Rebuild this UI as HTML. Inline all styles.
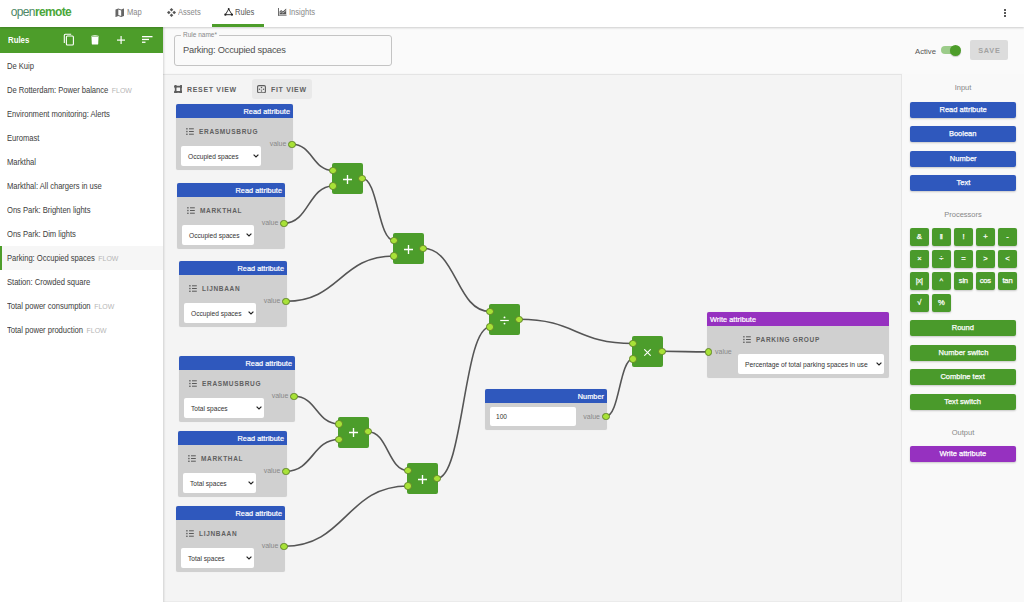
<!DOCTYPE html>
<html><head><meta charset="utf-8">
<style>
*{box-sizing:border-box;margin:0;padding:0}
html,body{width:1024px;height:602px;overflow:hidden;background:#fff;font-family:"Liberation Sans",sans-serif;position:relative}
.a{position:absolute}
#topbar{left:0;top:0;width:1024px;height:27px;background:#fff;box-shadow:0 1px 2px rgba(0,0,0,.18);z-index:5}
.nav{top:6.5px;font-size:8.6px;transform:scaleX(.88);transform-origin:0 0;color:#888;white-space:nowrap;line-height:10px}
.nav.act{color:#555}
#left{left:0;top:27px;width:163px;height:575px;background:#fff;z-index:3;box-shadow:1px 0 2px rgba(0,0,0,.15)}
#lhead{left:0;top:0;width:163px;height:26px;background:#4d9d2a}
.li{left:7px;font-size:8.6px;letter-spacing:-0.05px;color:#3d3d3d;white-space:nowrap;line-height:10px;transform:scaleX(.89);transform-origin:0 0}
.flow{color:#b5b5b5;font-size:7.8px;letter-spacing:0;margin-left:4px}
#main{left:163px;top:27px;width:861px;height:575px;background:#fafafa}
#canvas{left:163px;top:74px;width:739px;height:528px;background:#f4f4f4;border-top:1px solid #e4e4e4;border-right:1px solid #e6e6e6;border-bottom:1px solid #ebebeb;box-shadow:1px 0 2px rgba(0,0,0,.04)}
#pal{left:902px;top:74px;width:122px;height:528px;background:#f9f9f9}
.pb{left:910px;width:106px;height:16px;border-radius:2px;color:#fff;font-size:7.5px;font-weight:bold;text-align:center;line-height:16.5px;box-shadow:0 1px 2px rgba(0,0,0,.2)}
.blue{background:#2f58bd}
.grn{background:#4a9a2b}
.pur{background:#9631c0}
.pt{display:inline-block;font-size:8px;transform:scaleX(.94);white-space:nowrap;font-weight:normal;-webkit-text-stroke:0.25px #fff}
.sb{width:18.5px;height:18px;line-height:18.5px;font-size:7.6px;font-weight:normal;-webkit-text-stroke:0.25px #fff;letter-spacing:-0.2px}
.tb{font-size:8px;font-weight:bold;letter-spacing:0.8px;color:#606060;line-height:10px;white-space:nowrap;transform:scaleX(.87);transform-origin:0 0}
.plab{left:902px;width:122px;text-align:center;font-size:7.5px;color:#888;line-height:10px}
.node{background:#d0d0d0;border-radius:2px;box-shadow:0 0 1px rgba(0,0,0,.1)}
.nh{position:absolute;left:0;top:0;right:0;height:14px;border-radius:2px 2px 0 0;color:#fff;font-size:7.3px;font-weight:normal;-webkit-text-stroke:0.22px #fff;letter-spacing:0.05px;line-height:16px;padding:0 3px;text-align:right}
.nm{position:absolute;font-size:6.5px;font-weight:bold;letter-spacing:0.68px;color:#606060;line-height:8px;white-space:nowrap}
.selb{position:absolute;background:#fff;border-radius:2px;font-size:6.6px;color:#333;line-height:21px;padding-left:7px;white-space:nowrap}
svg{display:block}
.chev{position:absolute;right:2px;top:8px}
.sym{font-size:13px;line-height:31px}
.val{position:absolute;font-size:7px;color:#888;line-height:8px}
.proc{background:#4c9d2b;border-radius:2px;color:#fff;text-align:center}
.sock{position:absolute;width:7.4px;height:7.4px;border-radius:50%;background:#a8e237;border:1px solid #62862a;z-index:4}
</style></head><body>

<!-- main areas -->
<div id="main" class="a"></div>
<div id="canvas" class="a"></div>
<div id="pal" class="a"></div>

<!-- top bar -->
<div id="topbar" class="a">
  <div class="a" style="left:10.8px;top:5px;font-size:12px;letter-spacing:-0.65px;line-height:14px;white-space:nowrap"><span style="color:#4d8868">open</span><span style="color:#4aa63a;font-weight:bold">remote</span></div>
  
  <svg class="a" style="left:114.5px;top:7.5px" width="9.5" height="9.5" viewBox="2 2 20 20"><path fill="#666" d="M20.5 3l-.16.03L15 5.1 9 3 3.36 4.9c-.21.07-.36.25-.36.48V20.5c0 .28.22.5.5.5l.16-.03L9 18.9l6 2.1 5.64-1.9c.21-.07.36-.25.36-.48V3.5c0-.28-.22-.5-.5-.5zM15 19l-6-2.11V5l6 2.11V19z"/></svg>
  <svg class="a" style="left:167px;top:7.5px" width="9" height="9" viewBox="0 0 9 9"><g fill="#555"><path d="M4.5 0 L6.3 1.8 L4.5 3.6 L2.7 1.8 Z"/><path d="M4.5 5.4 L6.3 7.2 L4.5 9 L2.7 7.2 Z"/><path d="M0 4.5 L1.8 2.7 L3.6 4.5 L1.8 6.3 Z"/><path d="M5.4 4.5 L7.2 2.7 L9 4.5 L7.2 6.3 Z"/></g></svg>
  <svg class="a" style="left:223.5px;top:8.2px" width="9.4" height="7.8" viewBox="0 0 10 8.4"><g fill="none" stroke="#222" stroke-width="1"><path d="M5 1.2 L1.4 7.2 H8.6 Z"/></g><g fill="#222"><circle cx="5" cy="1.1" r="1"/><circle cx="1.4" cy="7.2" r="1.2"/><circle cx="8.6" cy="7.2" r="1.2"/></g></svg>
  <svg class="a" style="left:278px;top:8.3px" width="8.6" height="7.6" viewBox="0 0 9 8"><g fill="#555"><rect x="0" y="0" width="0.9" height="8"/><rect x="0" y="7.1" width="9" height="0.9"/><path d="M1.6 6.6 V3.6 L3.3 2.2 L5.1 3.7 L8.6 0.6 V6.6 Z"/></g><path d="M1.6 5.3 L3.3 3.9 L5.1 5.4 L8.6 2.4" stroke="#fff" stroke-width="0.6" fill="none"/></svg>
<div class="a nav" style="left:127px">Map</div>
  <div class="a nav" style="left:178px">Assets</div>
  <div class="a nav act" style="left:235px">Rules</div>
  <div class="a nav" style="left:289px">Insights</div>
  <div class="a" style="left:212px;top:24px;width:52px;height:3px;background:#4d9d2a"></div>
  <div class="a" style="left:1004px;top:9px;width:2px;height:2px;background:#222;border-radius:1px"></div>
  <div class="a" style="left:1004px;top:12px;width:2px;height:2px;background:#222;border-radius:1px"></div>
  <div class="a" style="left:1004px;top:15px;width:2px;height:2px;background:#222;border-radius:1px"></div>
</div>

<!-- left panel -->
<div id="left" class="a">
  <div id="lhead" class="a">
    <div class="a" style="left:8px;top:8px;font-size:9px;font-weight:bold;color:#fff;line-height:10px;transform:scaleX(.87);transform-origin:0 0">Rules</div>
  <svg class="a" style="left:62px;top:5.5px" width="13" height="13" viewBox="0 0 13 13"><g fill="none" stroke="#fff" stroke-width="1.1"><path d="M2.3 10 V2.2 Q2.3 1.2 3.3 1.2 H9.2"/><rect x="4.4" y="3" width="7" height="9" rx="1"/></g></svg>
  <svg class="a" style="left:91px;top:7.5px" width="8" height="10" viewBox="0 0 8 10"><g fill="#fff"><path d="M0 0.9 Q4 -0.3 8 0.9 V1.6 H0 Z"/><path d="M0.5 2.1 H7.5 L7.2 9 Q7.1 9.6 6.4 9.6 H1.6 Q0.9 9.6 0.8 9 Z"/></g></svg>
  <svg class="a" style="left:117.2px;top:8.8px" width="8.2" height="8.2" viewBox="0 0 8.2 8.2"><g fill="#fff"><rect x="3.5" y="0" width="1.2" height="8.2"/><rect x="0" y="3.5" width="8.2" height="1.2"/></g></svg>
  <svg class="a" style="left:141.5px;top:9.4px" width="11" height="7" viewBox="0 0 11 7"><g fill="#fff"><rect x="0" y="0" width="10.5" height="1.3"/><rect x="0" y="2.8" width="7" height="1.3"/><rect x="0" y="5.6" width="3.5" height="1.3"/></g></svg>

  </div>
  <div class="a" style="left:0;top:218.5px;width:163px;height:24.5px;background:#f6f6f6"></div>
  <div class="a" style="left:0;top:218.5px;width:2px;height:24.5px;background:#4d9d2a"></div>
  <div class="a li" style="top:34px">De Kuip</div>
  <div class="a li" style="top:58px">De Rotterdam: Power balance<span class="flow">FLOW</span></div>
  <div class="a li" style="top:82px">Environment monitoring: Alerts</div>
  <div class="a li" style="top:106px">Euromast</div>
  <div class="a li" style="top:130px">Markthal</div>
  <div class="a li" style="top:154px">Markthal: All chargers in use</div>
  <div class="a li" style="top:178px">Ons Park: Brighten lights</div>
  <div class="a li" style="top:202px">Ons Park: Dim lights</div>
  <div class="a li" style="top:226px">Parking: Occupied spaces<span class="flow">FLOW</span></div>
  <div class="a li" style="top:250px">Station: Crowded square</div>
  <div class="a li" style="top:274px">Total power consumption<span class="flow">FLOW</span></div>
  <div class="a li" style="top:298px">Total power production<span class="flow">FLOW</span></div>
</div>


<!-- toolbar -->
<div class="a" style="left:252px;top:79px;width:60px;height:20px;background:#e9e9e9;border-radius:3px"></div>
<div class="a tb" style="left:187px;top:84.5px">RESET VIEW</div>
<div class="a tb" style="left:271px;top:84.5px">FIT VIEW</div>
<svg class="a" style="left:173.6px;top:84.9px" width="8.6" height="8.6" viewBox="0 0 9 9"><g fill="#5c5c5c"><path d="M1.5 0.3 Q4.5 1.5 7.5 0.3 L8.7 1.5 Q7.5 4.5 8.7 7.5 L7.5 8.7 Q4.5 7.5 1.5 8.7 L0.3 7.5 Q1.5 4.5 0.3 1.5 Z M2.6 2.6 V6.4 H6.4 V2.6 Z" fill-rule="evenodd"/><circle cx="1.5" cy="1.5" r="1.4"/><circle cx="7.5" cy="1.5" r="1.4"/><circle cx="1.5" cy="7.5" r="1.4"/><circle cx="7.5" cy="7.5" r="1.4"/></g></svg>
<svg class="a" style="left:257px;top:84.8px" width="9" height="8.4" viewBox="0 0 9 8.4"><rect x="0.6" y="0.6" width="7.8" height="7.2" rx="1.2" fill="none" stroke="#5c5c5c" stroke-width="1.1"/><g fill="#5c5c5c"><circle cx="4.5" cy="2.4" r="0.75"/><circle cx="4.5" cy="6" r="0.75"/><circle cx="2.5" cy="4.2" r="0.75"/><circle cx="6.5" cy="4.2" r="0.75"/></g><circle cx="4.5" cy="4.2" r="0.5" fill="#999"/></svg>

<!-- palette -->
<div class="a plab" style="top:83px">Input</div>
<div class="a pb blue" style="top:101.5px"><span class="pt">Read attribute</span></div>
<div class="a pb blue" style="top:126px"><span class="pt">Boolean</span></div>
<div class="a pb blue" style="top:150.5px"><span class="pt">Number</span></div>
<div class="a pb blue" style="top:175px"><span class="pt">Text</span></div>
<div class="a plab" style="top:209.5px">Processors</div>
<div class="a pb grn sb" style="left:910.0px;top:228.0px">&amp;</div>
<div class="a pb grn sb" style="left:932.0px;top:228.0px">‖</div>
<div class="a pb grn sb" style="left:954.1px;top:228.0px">!</div>
<div class="a pb grn sb" style="left:976.1px;top:228.0px">+</div>
<div class="a pb grn sb" style="left:998.2px;top:228.0px">-</div>
<div class="a pb grn sb" style="left:910.0px;top:250.0px">×</div>
<div class="a pb grn sb" style="left:932.0px;top:250.0px">÷</div>
<div class="a pb grn sb" style="left:954.1px;top:250.0px">=</div>
<div class="a pb grn sb" style="left:976.1px;top:250.0px">&gt;</div>
<div class="a pb grn sb" style="left:998.2px;top:250.0px">&lt;</div>
<div class="a pb grn sb" style="left:910.0px;top:272.0px">|x|</div>
<div class="a pb grn sb" style="left:932.0px;top:272.0px">^</div>
<div class="a pb grn sb" style="left:954.1px;top:272.0px">sin</div>
<div class="a pb grn sb" style="left:976.1px;top:272.0px">cos</div>
<div class="a pb grn sb" style="left:998.2px;top:272.0px">tan</div>
<div class="a pb grn sb" style="left:910.0px;top:294.0px">√</div>
<div class="a pb grn sb" style="left:932.0px;top:294.0px">%</div>
<div class="a pb grn" style="top:320.3px"><span class="pt">Round</span></div>
<div class="a pb grn" style="top:344.7px"><span class="pt">Number switch</span></div>
<div class="a pb grn" style="top:369.3px"><span class="pt">Combine text</span></div>
<div class="a pb grn" style="top:394px"><span class="pt">Text switch</span></div>
<div class="a plab" style="top:428px">Output</div>
<div class="a pb pur" style="top:446.3px"><span class="pt">Write attribute</span></div>
<svg class="a" style="left:0;top:0;z-index:1" width="1024" height="602"><g fill="none" stroke="#555" stroke-width="1.6"><path d="M292.1 144.3 C312.6 144.3 312.6 170.5 333.0 170.5"/><path d="M284.1 223.3 C308.6 223.3 308.6 186.0 333.0 186.0"/><path d="M362.0 178.3 C378.0 178.3 378.0 240.5 394.0 240.5"/><path d="M286.1 301.3 C340.1 301.3 340.1 256.0 394.0 256.0"/><path d="M423.0 248.3 C456.5 248.3 456.5 311.5 490.0 311.5"/><path d="M437.0 478.3 C463.5 478.3 463.5 327.0 490.0 327.0"/><path d="M519.0 319.3 C576.0 319.3 576.0 343.5 633.0 343.5"/><path d="M606.0 416.2 C619.5 416.2 619.5 359.0 633.0 359.0"/><path d="M662.0 351.3 C685.1 351.3 685.1 351.9 708.2 351.9"/><path d="M294.1 396.3 C316.6 396.3 316.6 424.0 339.0 424.0"/><path d="M286.1 471.3 C312.6 471.3 312.6 439.5 339.0 439.5"/><path d="M368.0 431.8 C388.0 431.8 388.0 470.5 408.0 470.5"/><path d="M284.1 546.3 C346.1 546.3 346.1 486.0 408.0 486.0"/></g></svg><div class="a" style="left:0;top:0;z-index:2"><div class="a node" style="left:176px;top:104px;width:117px;height:66px"><div class="nh blue">Read attribute</div><div class="a" style="left:10px;top:24px"><svg class="ic" width="8" height="7" viewBox="0 0 8 7"><g fill="#5a5a5a"><rect x="0.2" y="0.1" width="1.4" height="1.4" rx="0.5"/><rect x="0.2" y="2.8" width="1.4" height="1.4" rx="0.5"/><rect x="0.2" y="5.5" width="1.4" height="1.4" rx="0.5"/><rect x="3" y="0.3" width="4.8" height="1"/><rect x="3" y="3" width="4.8" height="1"/><rect x="3" y="5.7" width="4.8" height="1"/></g></svg></div><div class="nm" style="left:23px;top:24px">ERASMUSBRUG</div><div class="selb" style="left:5px;top:42px;width:80px;height:20px">Occupied spaces<svg class="chev" width="6" height="4" viewBox="0 0 6 4"><path d="M0.6 0.6 L3 3 L5.4 0.6" stroke="#222" stroke-width="1.2" fill="none"/></svg></div><div class="val" style="right:6.6px;top:36px">value</div></div><div class="a node" style="left:177px;top:183px;width:108px;height:66px"><div class="nh blue">Read attribute</div><div class="a" style="left:10px;top:24px"><svg class="ic" width="8" height="7" viewBox="0 0 8 7"><g fill="#5a5a5a"><rect x="0.2" y="0.1" width="1.4" height="1.4" rx="0.5"/><rect x="0.2" y="2.8" width="1.4" height="1.4" rx="0.5"/><rect x="0.2" y="5.5" width="1.4" height="1.4" rx="0.5"/><rect x="3" y="0.3" width="4.8" height="1"/><rect x="3" y="3" width="4.8" height="1"/><rect x="3" y="5.7" width="4.8" height="1"/></g></svg></div><div class="nm" style="left:23px;top:24px">MARKTHAL</div><div class="selb" style="left:5px;top:42px;width:72px;height:20px">Occupied spaces<svg class="chev" width="6" height="4" viewBox="0 0 6 4"><path d="M0.6 0.6 L3 3 L5.4 0.6" stroke="#222" stroke-width="1.2" fill="none"/></svg></div><div class="val" style="right:6.6px;top:36px">value</div></div><div class="a node" style="left:179px;top:261px;width:108px;height:66px"><div class="nh blue">Read attribute</div><div class="a" style="left:10px;top:24px"><svg class="ic" width="8" height="7" viewBox="0 0 8 7"><g fill="#5a5a5a"><rect x="0.2" y="0.1" width="1.4" height="1.4" rx="0.5"/><rect x="0.2" y="2.8" width="1.4" height="1.4" rx="0.5"/><rect x="0.2" y="5.5" width="1.4" height="1.4" rx="0.5"/><rect x="3" y="0.3" width="4.8" height="1"/><rect x="3" y="3" width="4.8" height="1"/><rect x="3" y="5.7" width="4.8" height="1"/></g></svg></div><div class="nm" style="left:23px;top:24px">LIJNBAAN</div><div class="selb" style="left:5px;top:42px;width:72px;height:20px">Occupied spaces<svg class="chev" width="6" height="4" viewBox="0 0 6 4"><path d="M0.6 0.6 L3 3 L5.4 0.6" stroke="#222" stroke-width="1.2" fill="none"/></svg></div><div class="val" style="right:6.6px;top:36px">value</div></div><div class="a node" style="left:179px;top:356px;width:116px;height:66px"><div class="nh blue">Read attribute</div><div class="a" style="left:10px;top:24px"><svg class="ic" width="8" height="7" viewBox="0 0 8 7"><g fill="#5a5a5a"><rect x="0.2" y="0.1" width="1.4" height="1.4" rx="0.5"/><rect x="0.2" y="2.8" width="1.4" height="1.4" rx="0.5"/><rect x="0.2" y="5.5" width="1.4" height="1.4" rx="0.5"/><rect x="3" y="0.3" width="4.8" height="1"/><rect x="3" y="3" width="4.8" height="1"/><rect x="3" y="5.7" width="4.8" height="1"/></g></svg></div><div class="nm" style="left:23px;top:24px">ERASMUSBRUG</div><div class="selb" style="left:5px;top:42px;width:80px;height:20px">Total spaces<svg class="chev" width="6" height="4" viewBox="0 0 6 4"><path d="M0.6 0.6 L3 3 L5.4 0.6" stroke="#222" stroke-width="1.2" fill="none"/></svg></div><div class="val" style="right:6.6px;top:36px">value</div></div><div class="a node" style="left:178px;top:431px;width:109px;height:66px"><div class="nh blue">Read attribute</div><div class="a" style="left:10px;top:24px"><svg class="ic" width="8" height="7" viewBox="0 0 8 7"><g fill="#5a5a5a"><rect x="0.2" y="0.1" width="1.4" height="1.4" rx="0.5"/><rect x="0.2" y="2.8" width="1.4" height="1.4" rx="0.5"/><rect x="0.2" y="5.5" width="1.4" height="1.4" rx="0.5"/><rect x="3" y="0.3" width="4.8" height="1"/><rect x="3" y="3" width="4.8" height="1"/><rect x="3" y="5.7" width="4.8" height="1"/></g></svg></div><div class="nm" style="left:23px;top:24px">MARKTHAL</div><div class="selb" style="left:5px;top:42px;width:73px;height:20px">Total spaces<svg class="chev" width="6" height="4" viewBox="0 0 6 4"><path d="M0.6 0.6 L3 3 L5.4 0.6" stroke="#222" stroke-width="1.2" fill="none"/></svg></div><div class="val" style="right:6.6px;top:36px">value</div></div><div class="a node" style="left:176px;top:506px;width:109px;height:66px"><div class="nh blue">Read attribute</div><div class="a" style="left:10px;top:24px"><svg class="ic" width="8" height="7" viewBox="0 0 8 7"><g fill="#5a5a5a"><rect x="0.2" y="0.1" width="1.4" height="1.4" rx="0.5"/><rect x="0.2" y="2.8" width="1.4" height="1.4" rx="0.5"/><rect x="0.2" y="5.5" width="1.4" height="1.4" rx="0.5"/><rect x="3" y="0.3" width="4.8" height="1"/><rect x="3" y="3" width="4.8" height="1"/><rect x="3" y="5.7" width="4.8" height="1"/></g></svg></div><div class="nm" style="left:23px;top:24px">LIJNBAAN</div><div class="selb" style="left:5px;top:42px;width:72.6px;height:20px">Total spaces<svg class="chev" width="6" height="4" viewBox="0 0 6 4"><path d="M0.6 0.6 L3 3 L5.4 0.6" stroke="#222" stroke-width="1.2" fill="none"/></svg></div><div class="val" style="right:6.6px;top:36px">value</div></div><div class="a proc" style="left:332px;top:163px;width:31px;height:31px"><svg class="a" style="left:11.2px;top:11.5px" width="9" height="9" viewBox="0 0 9 9"><path d="M4.5 0 V9 M0 4.5 H9" stroke="#fff" stroke-width="1.35"/></svg></div><div class="a proc" style="left:393px;top:233px;width:31px;height:31px"><svg class="a" style="left:11.2px;top:11.5px" width="9" height="9" viewBox="0 0 9 9"><path d="M4.5 0 V9 M0 4.5 H9" stroke="#fff" stroke-width="1.35"/></svg></div><div class="a proc" style="left:338px;top:416.5px;width:31px;height:31px"><svg class="a" style="left:11.2px;top:11.5px" width="9" height="9" viewBox="0 0 9 9"><path d="M4.5 0 V9 M0 4.5 H9" stroke="#fff" stroke-width="1.35"/></svg></div><div class="a proc" style="left:407px;top:463px;width:31px;height:31px"><svg class="a" style="left:11.2px;top:11.5px" width="9" height="9" viewBox="0 0 9 9"><path d="M4.5 0 V9 M0 4.5 H9" stroke="#fff" stroke-width="1.35"/></svg></div><div class="a proc" style="left:489px;top:304px;width:31px;height:31px"><svg class="a" style="left:11.3px;top:12px" width="9" height="9" viewBox="0 0 9 9"><path d="M0.2 4.5 H8.8" stroke="#fff" stroke-width="1.2"/><circle cx="4.5" cy="1.4" r="0.95" fill="#fff"/><circle cx="4.5" cy="7.6" r="0.95" fill="#fff"/></svg></div><div class="a proc" style="left:632px;top:336px;width:31px;height:31px"><svg class="a" style="left:12px;top:12.7px" width="7" height="7" viewBox="0 0 7 7"><path d="M0.3 0.3 L6.7 6.7 M6.7 0.3 L0.3 6.7" stroke="#fff" stroke-width="1.1"/></svg></div><div class="a node" style="left:485px;top:389px;width:122px;height:41px"><div class="nh blue">Number</div><div class="selb" style="left:5px;top:18px;width:86px;height:19px;line-height:19px;padding-left:6px">100</div><div class="val" style="right:7px;top:24px">value</div></div><div class="a node" style="left:707px;top:312px;width:182px;height:66px"><div class="nh pur" style="text-align:left">Write attribute</div><div class="a" style="left:36px;top:24px"><svg class="ic" width="8" height="7" viewBox="0 0 8 7"><g fill="#5a5a5a"><rect x="0.2" y="0.1" width="1.4" height="1.4" rx="0.5"/><rect x="0.2" y="2.8" width="1.4" height="1.4" rx="0.5"/><rect x="0.2" y="5.5" width="1.4" height="1.4" rx="0.5"/><rect x="3" y="0.3" width="4.8" height="1"/><rect x="3" y="3" width="4.8" height="1"/><rect x="3" y="5.7" width="4.8" height="1"/></g></svg></div><div class="nm" style="left:49px;top:24px">PARKING GROUP</div><div class="selb" style="left:31px;top:42px;width:146px;height:20px;font-size:6.7px">Percentage of total parking spaces in use<svg class="chev" width="6" height="4" viewBox="0 0 6 4"><path d="M0.6 0.6 L3 3 L5.4 0.6" stroke="#222" stroke-width="1.2" fill="none"/></svg></div><div class="val" style="left:8px;top:36px">value</div></div></div><div class="sock" style="left:288.4px;top:140.6px"></div><div class="sock" style="left:280.4px;top:219.6px"></div><div class="sock" style="left:282.4px;top:297.6px"></div><div class="sock" style="left:290.4px;top:392.6px"></div><div class="sock" style="left:282.4px;top:467.6px"></div><div class="sock" style="left:280.4px;top:542.6px"></div><div class="sock" style="left:329.3px;top:166.8px"></div><div class="sock" style="left:329.3px;top:182.3px"></div><div class="sock" style="left:358.3px;top:174.6px"></div><div class="sock" style="left:390.3px;top:236.8px"></div><div class="sock" style="left:390.3px;top:252.3px"></div><div class="sock" style="left:419.3px;top:244.6px"></div><div class="sock" style="left:335.3px;top:420.3px"></div><div class="sock" style="left:335.3px;top:435.8px"></div><div class="sock" style="left:364.3px;top:428.1px"></div><div class="sock" style="left:404.3px;top:466.8px"></div><div class="sock" style="left:404.3px;top:482.3px"></div><div class="sock" style="left:433.3px;top:474.6px"></div><div class="sock" style="left:486.3px;top:307.8px"></div><div class="sock" style="left:486.3px;top:323.3px"></div><div class="sock" style="left:515.3px;top:315.6px"></div><div class="sock" style="left:629.3px;top:339.8px"></div><div class="sock" style="left:629.3px;top:355.3px"></div><div class="sock" style="left:658.3px;top:347.6px"></div><div class="sock" style="left:602.3px;top:412.5px"></div><div class="sock" style="left:704.5px;top:348.2px"></div>
<!-- rule name -->
<div class="a" style="left:174px;top:35px;width:218px;height:31px;border:1px solid #c4c4c4;border-radius:3px"></div>
<div class="a" style="left:181px;top:31px;padding:0 2px;background:#fafafa;font-size:6.5px;color:#888;line-height:8px">Rule name*</div>
<div class="a" style="left:183px;top:44.5px;font-size:9.3px;letter-spacing:-0.22px;color:#505050;line-height:11px;white-space:nowrap">Parking: Occupied spaces</div>

<!-- active / save -->
<div class="a" style="left:915px;top:46.5px;font-size:7.7px;color:#555;line-height:10px">Active</div>
<div class="a" style="left:941px;top:46px;width:19px;height:8px;border-radius:4px;background:#9ccc8a"></div>
<div class="a" style="left:950px;top:44.5px;width:11px;height:11px;border-radius:50%;background:#4d9d2a;box-shadow:0 1px 1px rgba(0,0,0,.2)"></div>
<div class="a" style="left:970px;top:40px;width:38px;height:20px;border-radius:2px;background:#dcdcdc;color:#a2a2a2;font-size:7.3px;font-weight:bold;letter-spacing:0.75px;text-align:center;line-height:21px;padding-left:0.7px">SAVE</div>

</body></html>
